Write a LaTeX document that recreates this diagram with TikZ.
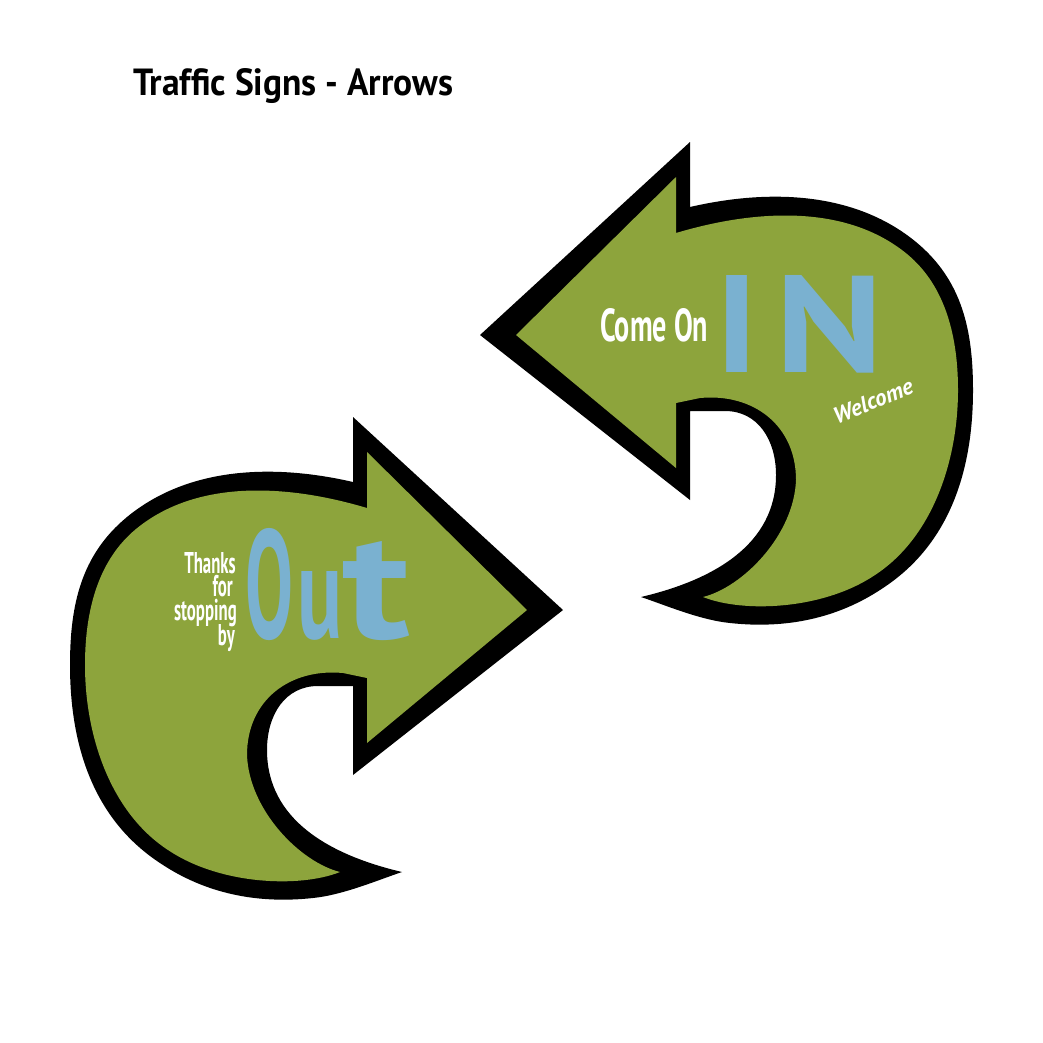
\documentclass[tikz,border=0pt]{standalone}
\usepackage{fontspec}
\usepackage{graphicx}
\newfontfamily\ptsans{PT Sans}
\definecolor{signgreen}{RGB}{141,164,60}
\definecolor{signblue}{RGB}{122,177,208}
\newcommand\signarrowshape{%
  % black outline shape
  \fill[black] (563,610) -- (353,775) -- (353,686) -- (318,686)
    .. controls (285,686) and (267,715) .. (267,750)
    .. controls (267,820) and (330,855) .. (402,872)
    .. controls (378,880) and (343,895) .. (313,898)
    .. controls (258,904) and (206,894) .. (160,863)
    .. controls (93,819) and (70,745) .. (70,665)
    .. controls (70,605) and (81,555) .. (127,517)
    .. controls (189,466) and (275,464) .. (353,482)
    -- (353,417) -- cycle;
  % green body
  \fill[signgreen] (527,610) -- (367,743) -- (367,678) -- (343,673)
    .. controls (290,668) and (247,700) .. (247,755)
    .. controls (249,810) and (300,862) .. (340,872)
    .. controls (300,888) and (220,885) .. (168,850)
    .. controls (110,812) and (85,735) .. (85,665)
    .. controls (85,615) and (96,562) .. (136,529)
    .. controls (198,478) and (290,485) .. (367,508)
    -- (367,452) -- cycle;
}
\tikzset{
  titletext/.style={anchor=base west, inner sep=0pt, font=\ptsans\bfseries},
  whitetext/.style={text=white, inner sep=0pt, font=\ptsans\bfseries},
  bigblue/.style={text=signblue, inner sep=0pt, font=\ptsans\bfseries},
  thankstext/.style={whitetext, anchor=base east, font=\ptsans\bfseries\fontsize{30}{30}\selectfont},
}
\begin{document}
\begin{tikzpicture}[x=1pt,y=-1pt]
\useasboundingbox (0,0) rectangle (1043,1042);
\fill[white] (0,0) rectangle (1043,1042);

% Out arrow (bottom left)
\signarrowshape
% In arrow (top right): mirror image
\begin{scope}[shift={(1043,-275)}, xscale=-1]
  \signarrowshape
\end{scope}

\node[titletext] (title) at (133,95) {\resizebox{320pt}{27pt}{Traffic Signs - Arrows}};

\node[whitetext, anchor=base west] (comeon) at (600,341) {\resizebox{108pt}{33pt}{Come On}};
\node[bigblue, anchor=base west] (in) at (715,372) {\resizebox{43pt}{97pt}{I}\hspace{17pt}\resizebox{108pt}{97pt}{N}};
\node[whitetext, anchor=center, rotate=22, font=\ptsans\bfseries\itshape] (welcome) at (873,401) {\resizebox{84pt}{!}{Welcome}};

\node[thankstext] (thanks) at (236,573) {\scalebox{0.56}[1]{Thanks}};
\node[thankstext] (for) at (233,596) {\scalebox{0.56}[1]{for}};
\node[thankstext] (stopping) at (237,620) {\scalebox{0.56}[1]{stopping}};
\node[thankstext] (by) at (235,645) {\scalebox{0.56}[1]{by}};
\node[bigblue, anchor=base west] (out) at (245,638) {\resizebox{48pt}{110pt}{O}\hspace{4pt}\resizebox{45pt}{67pt}{u}\resizebox{68pt}{97pt}{t}};
\end{tikzpicture}
\end{document}
